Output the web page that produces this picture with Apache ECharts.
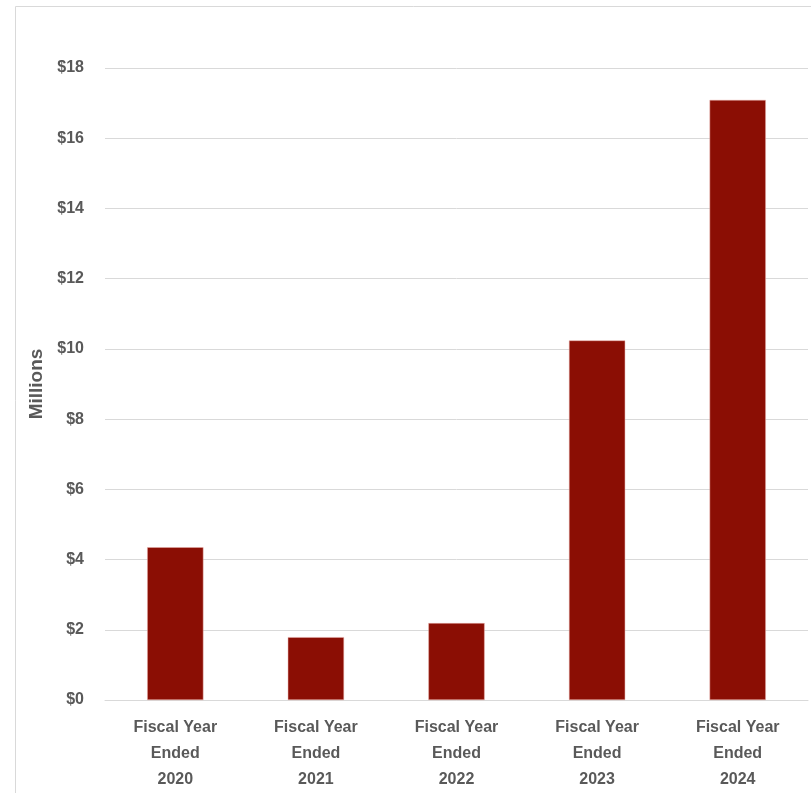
<!DOCTYPE html>
<html><head><meta charset="utf-8">
<script src="https://cdn.jsdelivr.net/npm/echarts@6/dist/echarts.min.js"></script>
<style>html,body{margin:0;padding:0;background:#fff}#c{width:811px;height:793px}</style>
</head><body><div id="c"></div>
<script>
const categories = ["Fiscal Year\nEnded\n2020","Fiscal Year\nEnded\n2021","Fiscal Year\nEnded\n2022","Fiscal Year\nEnded\n2023","Fiscal Year\nEnded\n2024"];
const values = [4.35, 1.79, 2.19, 10.24, 17.09];
const yTicks = {min: 0, max: 18, interval: 2};
const yTitle = "Millions";
const font = "'Liberation Sans Narrow', 'Liberation Sans', Arial, sans-serif";
const chart = echarts.init(document.getElementById('c'));
chart.setOption({
  animation: false,
  graphic: [{type:'rect', shape:{x:15.5,y:6.5,width:820,height:820}, style:{fill:'none', stroke:'#d9d9d9', lineWidth:1}, silent:true}],
  grid: {left: 105, right: 3, top: 68, bottom: 91},
  xAxis: {type:'category', data: categories,
    axisLine:{show:true, lineStyle:{color:'#d9d9d9'}}, axisTick:{show:false},
    axisLabel:{color:'#595959', fontFamily:font, fontWeight:'bold', fontSize:16, lineHeight:26, margin:15, interval:0}},
  yAxis: {type:'value', min:yTicks.min, max:yTicks.max, interval:yTicks.interval,
    name: yTitle, nameLocation:'middle', nameGap:57, nameRotate:90,
    nameTextStyle:{color:'#595959', fontFamily:font, fontWeight:'bold', fontSize:19},
    axisLine:{show:false}, axisTick:{show:false},
    splitLine:{lineStyle:{color:'#d9d9d9', width:1}},
    axisLabel:{color:'#595959', fontFamily:font, fontWeight:'bold', fontSize:16, margin:21, formatter: v => '$' + v}},
  series: [{type:'bar', data: values, barWidth:'40%', itemStyle:{color:'#8b0e04', borderColor:'#e8b0aa', borderWidth:0.5}}]
});
</script></body></html>
